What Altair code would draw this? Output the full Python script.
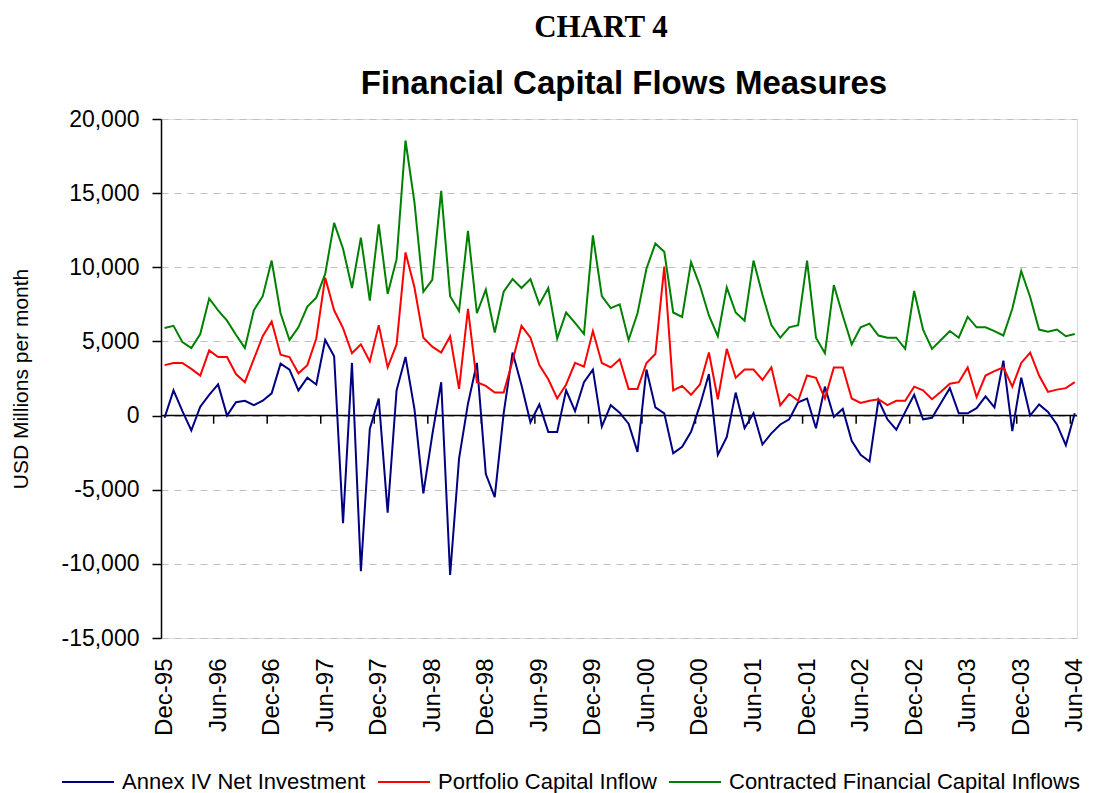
import altair as alt
import pandas as pd

chart_label = "CHART 4"
chart_title = "Financial Capital Flows Measures"
y_title = "USD Millions per month"

series_names = ["Annex IV Net Investment", "Portfolio Capital Inflow",
                "Contracted Financial Capital Inflows"]
series_colors = ["#000080", "#FF0000", "#008000"]

x_labels = ["Dec-95", "Jun-96", "Dec-96", "Jun-97", "Dec-97", "Jun-98", "Dec-98",
            "Jun-99", "Dec-99", "Jun-00", "Dec-00", "Jun-01", "Dec-01", "Jun-02",
            "Dec-02", "Jun-03", "Dec-03", "Jun-04"]
y_ticks = [-15000, -10000, -5000, 0, 5000, 10000, 15000, 20000]

# monthly values, Dec-95 .. Jun-04 (103 months)
annex = [
    -150, 1700, 300, -1000, 600, 1400, 2100, 0, 900, 1000,
    700, 1000, 1500, 3500, 3100, 1700, 2550, 2100, 5100, 4000,
    -7250, 3550, -10500, -900, 1150, -6550, 1700, 3950, 450, -5250,
    -1300, 2250, -10750, -2900, 800, 3550, -3950, -5500, 150, 4250,
    2050, -450, 750, -1100, -1100, 1700, 300, 2250, 3100, -750,
    700, 200, -550, -2450, 3100, 550, 150, -2550, -2100, -1100,
    700, 2800, -2650, -1450, 1550, -850, 150, -1950, -1200, -600,
    -250, 900, 1150, -850, 1950, -100, 450, -1700, -2650, -3100,
    1050, -250, -950, 250, 1400, -250, -150, 850, 1850, 150,
    150, 500, 1300, 550, 3700, -1050, 2550, 0, 750, 250,
    -600, -2000, 150,
]
portfolio = [
    3400, 3550, 3550, 3150, 2700, 4400, 3950, 3950, 2800, 2250,
    3800, 5350, 6350, 4100, 3950, 2850, 3400, 5200, 9300, 7100,
    5900, 4200, 4800, 3650, 6100, 3250, 4800, 11000, 8650, 5250,
    4650, 4250, 5350, 1800, 7200, 2250, 2000, 1550, 1550, 3700,
    6050, 5250, 3400, 2450, 1150, 2100, 3550, 3300, 5700, 3550,
    3250, 3800, 1800, 1800, 3550, 4150, 10050, 1700, 2000, 1400,
    2100, 4250, 1100, 4500, 2550, 3100, 3100, 2400, 3250, 700,
    1450, 1000, 2700, 2550, 1150, 3250, 3250, 1150, 850, 1000,
    1100, 700, 1000, 1000, 1950, 1700, 1100, 1600, 2150, 2250,
    3250, 1250, 2700, 3000, 3250, 1950, 3550, 4250, 2700, 1600,
    1750, 1850, 2250,
]
contracted = [
    5900, 6050, 4950, 4550, 5500, 7900, 7100, 6400, 5450, 4550,
    7100, 8050, 10450, 6900, 5100, 5950, 7350, 7950, 9550, 13000,
    11250, 8600, 12000, 7750, 12900, 8200, 10550, 18550, 14400, 8350,
    9150, 15150, 8050, 7050, 12450, 6900, 8500, 5600, 8350, 9200,
    8600, 9200, 7500, 8600, 5200, 6950, 6250, 5500, 12150, 8050,
    7250, 7500, 5100, 6900, 9900, 11600, 11050, 6950, 6650, 10350,
    8750, 6750, 5350, 8650, 6950, 6400, 10450, 8150, 6100, 5250,
    5950, 6100, 10450, 5250, 4200, 8800, 6750, 4800, 5950, 6200,
    5400, 5250, 5250, 4500, 8400, 5800, 4500, 5100, 5700, 5250,
    6650, 5950, 5950, 5700, 5400, 7200, 9750, 8000, 5800, 5650,
    5800, 5350, 5500,
]

rows = []
for name, vals in zip(series_names, [annex, portfolio, contracted]):
    for i, v in enumerate(vals):
        rows.append({"idx": i, "series": name, "value": v})
df = pd.DataFrame(rows)

n = len(annex)
label_idx = list(range(0, n, 6))
tick_pos = [i + 5.5 for i in label_idx[:-1]]
tick_df = pd.DataFrame({"idx": tick_pos, "value": [0] * len(tick_pos),
                        "value2": [-550] * len(tick_pos)})
zero_df = pd.DataFrame({"value": [0]})
head_df = pd.DataFrame({"t": [chart_label]})
title_df = pd.DataFrame({"t": [chart_title]})

FONT = "Liberation Sans"
label_expr = "[" + ",".join(f"'{s}'" for s in x_labels) + "][round(datum.value / 6)]"

x_scale = alt.Scale(domain=[-0.4, 102.25], nice=False, zero=False)
y_scale = alt.Scale(domain=[-15000, 20000], nice=False)

x_axis = alt.Axis(values=label_idx, labelExpr=label_expr, labelAngle=270,
                  labelFontSize=24, labelFont=FONT, labelColor="black",
                  labelPadding=20, ticks=False, domain=False, grid=False,
                  title=None, labelOverlap=False)
y_axis = alt.Axis(values=y_ticks,
                  labelExpr="replace(format(datum.value, ',.0f'), '\u2212', '-')",
                  labelFontSize=23, labelFont=FONT,
                  labelColor="black", tickSize=9, tickColor="black", tickWidth=1.5,
                  labelPadding=13, domainColor="black", domainWidth=1.5,
                  grid=True, gridColor="#c0c0c0", gridDash=[7, 6], gridWidth=1,
                  title=y_title, titleFont=FONT, titleFontSize=21,
                  titleFontWeight="normal", titleColor="black", titleAngle=270,
                  titleAlign="center", titleBaseline="middle",
                  titleX=-140, titleY=259.5)

def X(field="idx:Q"):
    return alt.X(field, scale=x_scale, axis=x_axis)

def Y(field="value:Q"):
    return alt.Y(field, scale=y_scale, axis=y_axis)

zero_line = alt.Chart(zero_df).mark_rule(color="black", strokeWidth=1.5).encode(y=Y())

zero_ticks = alt.Chart(tick_df).mark_rule(color="black", strokeWidth=1.5).encode(
    x=X(), y=Y(), y2="value2:Q")

lines = alt.Chart(df).mark_line(strokeWidth=2).encode(
    x=X(), y=Y(),
    color=alt.Color("series:N",
                    scale=alt.Scale(domain=series_names, range=series_colors),
                    sort=series_names,
                    legend=alt.Legend(title=None, orient="none", legendX=-100,
                                      legendY=636, direction="horizontal",
                                      symbolType="stroke", symbolSize=2704,
                                      symbolStrokeWidth=2, labelFontSize=22,
                                      labelFont=FONT, labelColor="black",
                                      labelOffset=7, columnPadding=8,
                                      labelLimit=600)),
)

head = alt.Chart(head_df).mark_text(font="Liberation Serif", fontSize=31,
                                    fontWeight="bold", align="center",
                                    baseline="alphabetic", color="black").encode(
    text="t:N", x=alt.value(440), y=alt.value(-82))

main_title = alt.Chart(title_df).mark_text(font=FONT, fontSize=33,
                                           fontWeight="bold", align="center",
                                           baseline="alphabetic", color="black").encode(
    text="t:N", x=alt.value(463), y=alt.value(-25))

chart = alt.layer(zero_line, zero_ticks, lines, head, main_title).properties(
    width=916, height=519,
    autosize=alt.AutoSizeParams(type="none"),
    padding={"left": 153, "top": 111, "right": 11, "bottom": 155},
).configure_view(stroke="#808080", strokeWidth=2).configure(background="white")

chart.save("out.html", embed_options={"renderer": "svg", "actions": False})
